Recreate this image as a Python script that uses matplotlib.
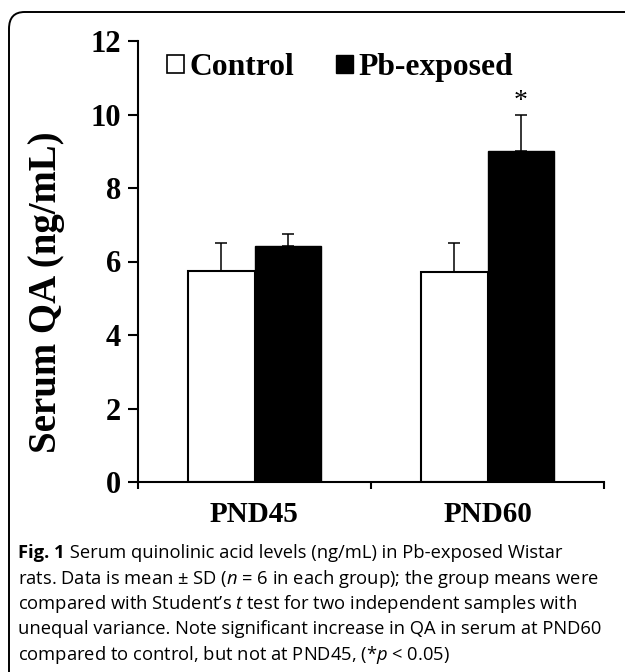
import numpy as np
import matplotlib
matplotlib.use("Agg")
import matplotlib.pyplot as plt
from matplotlib.patches import Patch, FancyBboxPatch

# data
groups = ["PND45", "PND60"]
series = ["Control", "Pb-exposed"]
means_control = [5.74, 5.71]
sd_control = [0.76, 0.79]
means_pb = [6.43, 9.02]
sd_pb = [0.33, 0.98]
signif = [False, True]   # * p < 0.05 vs control

plt.rcParams['mathtext.fontset'] = 'custom'
plt.rcParams['mathtext.rm'] = 'Open Sans'
plt.rcParams['mathtext.it'] = 'Open Sans:italic'
plt.rcParams['mathtext.bf'] = 'Open Sans:bold'

W, H = 625, 672
fig = plt.figure(figsize=(W / 100, H / 100), dpi=100)

# rounded frame around the whole figure (runs off the right/bottom edge)
frame = FancyBboxPatch((9 / W, 1 - 690 / H), 640 / W, 678 / H,
                       boxstyle="round,pad=0,rounding_size=0.025",
                       transform=fig.transFigure, fill=False,
                       edgecolor="black", linewidth=1.4)
fig.patches.append(frame)

ax = fig.add_axes([138 / W, 1 - 482 / H, 466 / W, 441 / H])

serif = "Liberation Serif"
x = np.arange(len(groups))
bw = 0.285
ax.bar(x - bw / 2, means_control, bw, color="white", edgecolor="black",
       linewidth=1.5, zorder=2)
ax.bar(x + bw / 2, means_pb, bw, color="black", edgecolor="black",
       linewidth=1.0, zorder=2)
ax.errorbar(x - bw / 2, means_control, yerr=[np.zeros(2), sd_control],
            fmt="none", ecolor="black", elinewidth=1.1, capsize=4.5,
            capthick=1.1, zorder=1)
ax.errorbar(x + bw / 2, means_pb, yerr=[np.zeros(2), sd_pb],
            fmt="none", ecolor="black", elinewidth=1.1, capsize=4.5,
            capthick=1.1, zorder=1)

for i, s in enumerate(signif):
    if s:
        ax.text(x[i] + bw / 2, means_pb[i] + sd_pb[i] + 0.0, "*",
                ha="center", va="bottom", fontsize=20, fontfamily=serif)

ax.set_xlim(-0.5, len(groups) - 0.5)
ax.set_ylim(0, 12)
ax.set_yticks(np.arange(0, 13, 2))
ax.set_yticklabels([str(v) for v in range(0, 13, 2)],
                   fontfamily=serif, fontweight="bold", fontsize=22)
ax.set_xticks(np.arange(-0.5, len(groups), 1.0))
ax.set_xticklabels([])
ax.set_xticks(x, minor=True)
ax.set_xticklabels(groups, minor=True, fontfamily=serif,
                   fontweight="bold", fontsize=21)
ax.tick_params(axis="y", direction="out", length=7, width=1.5, pad=5)
ax.tick_params(axis="x", which="major", direction="out", length=5, width=1.5)
ax.tick_params(axis="x", which="minor", length=0, pad=14)

for side in ["top", "right"]:
    ax.spines[side].set_visible(False)
for side in ["left", "bottom"]:
    ax.spines[side].set_linewidth(1.5)

ax.set_ylabel("Serum QA (ng/mL)", fontfamily=serif, fontweight="bold",
              fontsize=28)
ax.yaxis.set_label_coords(-0.157, 0.431)

handles = [Patch(facecolor="white", edgecolor="black", linewidth=1.2),
           Patch(facecolor="black", edgecolor="black")]
ax.legend(handles, series, loc="center left", bbox_to_anchor=(0.062, 0.94),
          ncol=2, frameon=False, borderpad=0, borderaxespad=0,
          handlelength=0.55, handleheight=0.5,
          handletextpad=0.17, columnspacing=1.3,
          prop={"family": serif, "weight": "bold", "size": 22.8})

# caption
cap_fs = 13.2
cap_y0, cap_dy = 553, 25.5
cap_lines = [
    r" Serum quinolinic acid levels (ng/mL) in Pb-exposed Wistar",
    r"rats. Data is mean ± SD ($n$ = 6 in each group); the group means were",
    r"compared with Student’s $t$ test for two independent samples with",
    r"unequal variance. Note significant increase in QA in serum at PND60",
    r"compared to control, but not at PND45, (*$p$ < 0.05)",
]
lead = fig.text(18 / W, 1 - cap_y0 / H, "Fig. 1", fontfamily="Open Sans",
                fontweight="bold", fontsize=cap_fs, ha="left", va="center")
renderer = fig.canvas.get_renderer()
lead_end = lead.get_window_extent(renderer).x1 / W
for k, line in enumerate(cap_lines):
    x0 = lead_end if k == 0 else 18 / W
    fig.text(x0, 1 - (cap_y0 + cap_dy * k) / H, line, fontfamily="Open Sans",
             fontsize=cap_fs, ha="left", va="center")

fig.savefig("out.png", dpi=100)
